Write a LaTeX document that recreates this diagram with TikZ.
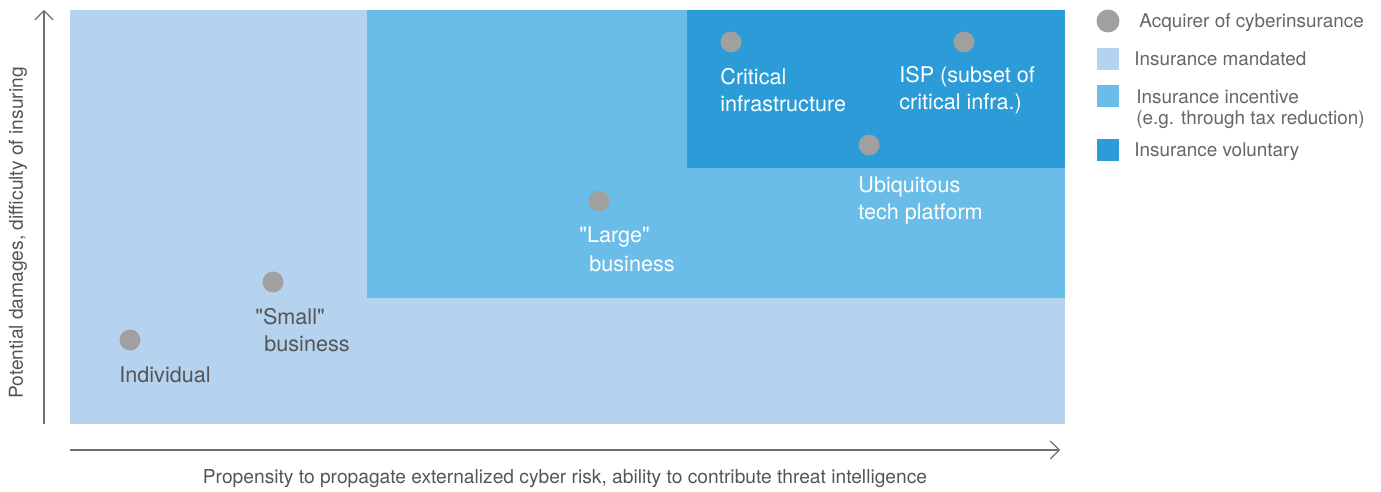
\documentclass[tikz,border=0pt]{standalone}
\usepackage{fontspec}
\setmainfont{TeX Gyre Heros}[Ligatures=TeXOff]
\usetikzlibrary{arrows.meta}
\definecolor{mandC}{HTML}{B5D3EF}
\definecolor{incC}{HTML}{6ABDE8}
\definecolor{volC}{HTML}{2B9CD8}
\definecolor{dotC}{HTML}{A0A0A0}
\definecolor{txtC}{HTML}{555555}
\definecolor{legC}{HTML}{666666}
\definecolor{axC}{HTML}{707070}
\begin{document}
\begin{tikzpicture}[x=0.5pt,y=-0.5pt,
  dotnode/.style={circle,fill=dotC,inner sep=0pt,minimum size=10.5pt},
  lbl/.style={anchor=west,inner sep=0pt,align=left,font=\fontsize{10.8}{13.5}\selectfont},
  dark/.style={lbl,text=txtC},
  light/.style={lbl,text=white},
  legtxt/.style={anchor=west,inner sep=0pt,align=left,text=legC,font=\fontsize{9.45}{10.8}\selectfont},
  legsq/.style={inner sep=0pt,minimum size=11pt},
  axis/.style={draw=axC,line width=0.6pt,-{Straight Barb[length=4.5pt,width=9pt,line width=0.6pt]}},
  axlbl/.style={inner sep=0pt,text=txtC,font=\fontsize{9.6}{11}\selectfont}]
\useasboundingbox (0,0) rectangle (1381,492);
% regions
\fill[mandC] (70,10) rectangle (1065,424);
\fill[incC] (367,10) rectangle (1065,298);
\fill[volC] (687,10) rectangle (1065,168);
% axes
\coordinate (yo) at (44,424);
\coordinate (yt) at (44,10);
\coordinate (xo) at (70,450);
\coordinate (xt) at (1060,450);
\draw[axis] (yo) -- (yt);
\draw[axis] (xo) -- (xt);
\node[axlbl,rotate=90] (ylab) at (18,233) {Potential damages, difficulty of insuring};
\node[axlbl] (xlab) at (565,479) {Propensity to propagate externalized cyber risk, ability to contribute threat intelligence};
% dots and labels
\node[dotnode] (ind) at (130,340) {};
\node[dark] (indl) at (119,375) {Individual};
\node[dotnode] (sml) at (273,282) {};
\node[dark] (smla) at (255,317) {"Small"};
\node[dark] (smlb) at (264,344) {business};
\node[dotnode] (lrg) at (599,201) {};
\node[light] (lrga) at (579,237) {"Large"};
\node[light] (lrgb) at (589,264) {business};
\node[dotnode] (crit) at (731,42) {};
\node[light] (critl) at (720,90) {Critical\\infrastructure};
\node[dotnode] (isp) at (964,42) {};
\node[light] (ispl) at (899,90) {ISP (subset of\\critical infra.)};
\node[dotnode] (ubq) at (869,145) {};
\node[light] (ubql) at (858,200) {Ubiquitous\\tech platform};
% legend
\node[dotnode,minimum size=11.5pt] (legdot) at (1108,21) {};
\node[legtxt] (legdott) at (1139,23) {Acquirer of cyberinsurance};
\node[legsq,fill=mandC] (legm) at (1108,59) {};
\node[legtxt] (legmt) at (1134,59) {Insurance mandated};
\node[legsq,fill=incC] (legi) at (1108,96) {};
\node[legtxt,anchor=north west] (legit) at (1136,89) {Insurance incentive\\(e.g. through tax reduction)};
\node[legsq,fill=volC] (legv) at (1108,150) {};
\node[legtxt] (legvt) at (1134,152) {Insurance voluntary};
\end{tikzpicture}
\end{document}
